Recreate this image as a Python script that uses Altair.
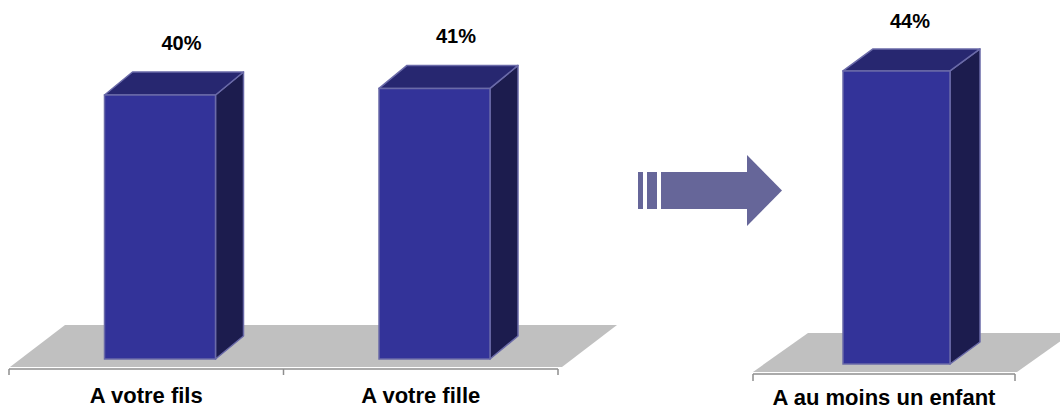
import altair as alt
import pandas as pd

# Shares of respondents (%)
left_categories = ["A votre fils", "A votre fille"]
left_values = [40, 41]
right_categories = ["A au moins un enfant"]
right_values = [44]

W, H = 1060, 410

FRONT = "#333399"
SIDE = "#1c1c4e"
TOP = "#272770"
EDGE = "#6a6aa8"
FLOOR = "#c0c0c0"
AXIS = "#8e8e8e"
ARROW = "#666699"
FONT = "Liberation Sans"

# Panel layout: x in pixels, vertical positions as pixel rows from the top
LEFT = dict(x0=9, slot=274.5, base=359, ppp=6.6, inset=95.5, bar_w=111, dx=28, dy=23,
            floor_front=367, floor_back=325, floor_l=10, floor_r=562, floor_dx=55,
            axis_y=369, tick=6, label_y=403, value_dx=77, value_gap=22)
RIGHT = dict(x0=753, slot=262, base=364, ppp=6.66, inset=90, bar_w=107, dx=30, dy=22,
             floor_front=372, floor_back=333, floor_l=753, floor_r=1017, floor_dx=55,
             axis_y=374, tick=7, label_y=405, value_dx=67, value_gap=21)

# Transition arrow between the two panels (pixels)
ARROW_GEOM = dict(stripes=[(638, 643), (647, 657)], shaft=(661, 747), top=172, bottom=209,
                  head_x=(747, 782), head_top=155, head_bottom=226, tip=190.5)

XS = alt.Scale(domain=[0, W], nice=False, zero=False)


def panel(cats, vals, g, with_arrow=False):
    base, ppp = g["base"], g["ppp"]

    def v(row):
        return (base - row) / ppp

    ys = alt.Scale(domain=[v(H), v(0)], nice=False, zero=False)
    dyv = g["dy"] / ppp
    n = len(cats)

    lefts = [g["x0"] + i * g["slot"] + g["inset"] for i in range(n)]
    rights = [x + g["bar_w"] for x in lefts]
    bars = pd.DataFrame({
        "name": cats, "val": vals, "left": lefts, "right": rights,
        "zero": [0.0] * n,
        "lx": [x + g["value_dx"] for x in lefts],
        "ly": [val + dyv + g["value_gap"] / ppp for val in vals],
        "txt": [f"{val}%" for val in vals],
    })

    side_rows, top_rows = [], []
    for name, val, l, r in zip(cats, vals, lefts, rights):
        side_rows += [{"name": name, "x": r, "lo": 0.0, "hi": val},
                      {"name": name, "x": r + g["dx"], "lo": dyv, "hi": val + dyv}]
        top_rows += [{"name": name, "y": val, "xl": l, "xr": r},
                     {"name": name, "y": val + dyv, "xl": l + g["dx"], "xr": r + g["dx"]}]
    side = pd.DataFrame(side_rows)
    top = pd.DataFrame(top_rows)

    floor = pd.DataFrame([
        {"y": v(g["floor_front"]), "xl": g["floor_l"], "xr": g["floor_r"]},
        {"y": v(g["floor_back"]), "xl": g["floor_l"] + g["floor_dx"],
         "xr": g["floor_r"] + g["floor_dx"]},
    ])
    axis_line = pd.DataFrame([{"x": g["x0"], "x2": g["x0"] + n * g["slot"], "y": v(g["axis_y"])}])
    ticks = pd.DataFrame([{"x": g["x0"] + k * g["slot"], "y": v(g["axis_y"]),
                           "y2": v(g["axis_y"] + g["tick"])} for k in range(n + 1)])
    labels = pd.DataFrame([{"x": g["x0"] + (i + 0.5) * g["slot"], "y": v(g["label_y"]),
                            "txt": c} for i, c in enumerate(cats)])

    layers = [
        alt.Chart(floor).mark_area(orient="horizontal", color=FLOOR, opacity=1, clip=True).encode(
            y=alt.Y("y:Q", scale=ys, axis=None),
            x=alt.X("xl:Q", scale=XS, axis=None), x2="xr:Q"),
        alt.Chart(axis_line).mark_rule(color=AXIS, strokeWidth=1.5).encode(
            x=alt.X("x:Q", scale=XS, axis=None), x2="x2:Q",
            y=alt.Y("y:Q", scale=ys, axis=None)),
        alt.Chart(ticks).mark_rule(color=AXIS, strokeWidth=1.5).encode(
            x=alt.X("x:Q", scale=XS, axis=None),
            y=alt.Y("y:Q", scale=ys, axis=None), y2="y2:Q"),
        alt.Chart(side).mark_area(orient="vertical", fill=SIDE, opacity=1, stroke=EDGE,
                                  strokeWidth=1.5, strokeJoin="round").encode(
            x=alt.X("x:Q", scale=XS, axis=None),
            y=alt.Y("hi:Q", scale=ys, axis=None), y2="lo:Q", detail="name:N"),
        alt.Chart(top).mark_area(orient="horizontal", fill=TOP, opacity=1, stroke=EDGE,
                                 strokeWidth=1.5, strokeJoin="round").encode(
            y=alt.Y("y:Q", scale=ys, axis=None),
            x=alt.X("xl:Q", scale=XS, axis=None), x2="xr:Q", detail="name:N"),
        alt.Chart(bars).mark_rect(fill=FRONT, stroke=EDGE, strokeWidth=1.5).encode(
            x=alt.X("left:Q", scale=XS, axis=None), x2="right:Q",
            y=alt.Y("val:Q", scale=ys, axis=None), y2="zero:Q"),
        alt.Chart(bars).mark_text(font=FONT, fontWeight="bold", fontSize=20, color="#000000",
                                  align="center", baseline="alphabetic").encode(
            x=alt.X("lx:Q", scale=XS, axis=None),
            y=alt.Y("ly:Q", scale=ys, axis=None), text="txt:N"),
        alt.Chart(labels).mark_text(font=FONT, fontWeight="bold", fontSize=22, color="#000000",
                                    align="center", baseline="alphabetic").encode(
            x=alt.X("x:Q", scale=XS, axis=None),
            y=alt.Y("y:Q", scale=ys, axis=None), text="txt:N"),
    ]

    if with_arrow:
        a = ARROW_GEOM
        blocks = pd.DataFrame(
            [{"x": s0, "x2": s1, "y": v(a["top"]), "y2": v(a["bottom"])} for s0, s1 in a["stripes"]]
            + [{"x": a["shaft"][0], "x2": a["shaft"][1], "y": v(a["top"]), "y2": v(a["bottom"])}])
        head = pd.DataFrame([
            {"x": a["head_x"][0], "hi": v(a["head_top"]), "lo": v(a["head_bottom"])},
            {"x": a["head_x"][1], "hi": v(a["tip"]), "lo": v(a["tip"])},
        ])
        layers += [
            alt.Chart(blocks).mark_rect(fill=ARROW).encode(
                x=alt.X("x:Q", scale=XS, axis=None), x2="x2:Q",
                y=alt.Y("y:Q", scale=ys, axis=None), y2="y2:Q"),
            alt.Chart(head).mark_area(orient="vertical", fill=ARROW, opacity=1).encode(
                x=alt.X("x:Q", scale=XS, axis=None),
                y=alt.Y("hi:Q", scale=ys, axis=None), y2="lo:Q"),
        ]
    return layers


chart = alt.layer(
    *panel(left_categories, left_values, LEFT, with_arrow=True),
    *panel(right_categories, right_values, RIGHT),
).resolve_scale(y="independent").properties(
    width=W, height=H, padding=0,
    autosize=alt.AutoSizeParams(type="none"),
    background="#ffffff",
).configure_view(stroke=None)

chart.save("out.html", embed_options={"renderer": "svg", "actions": False})
